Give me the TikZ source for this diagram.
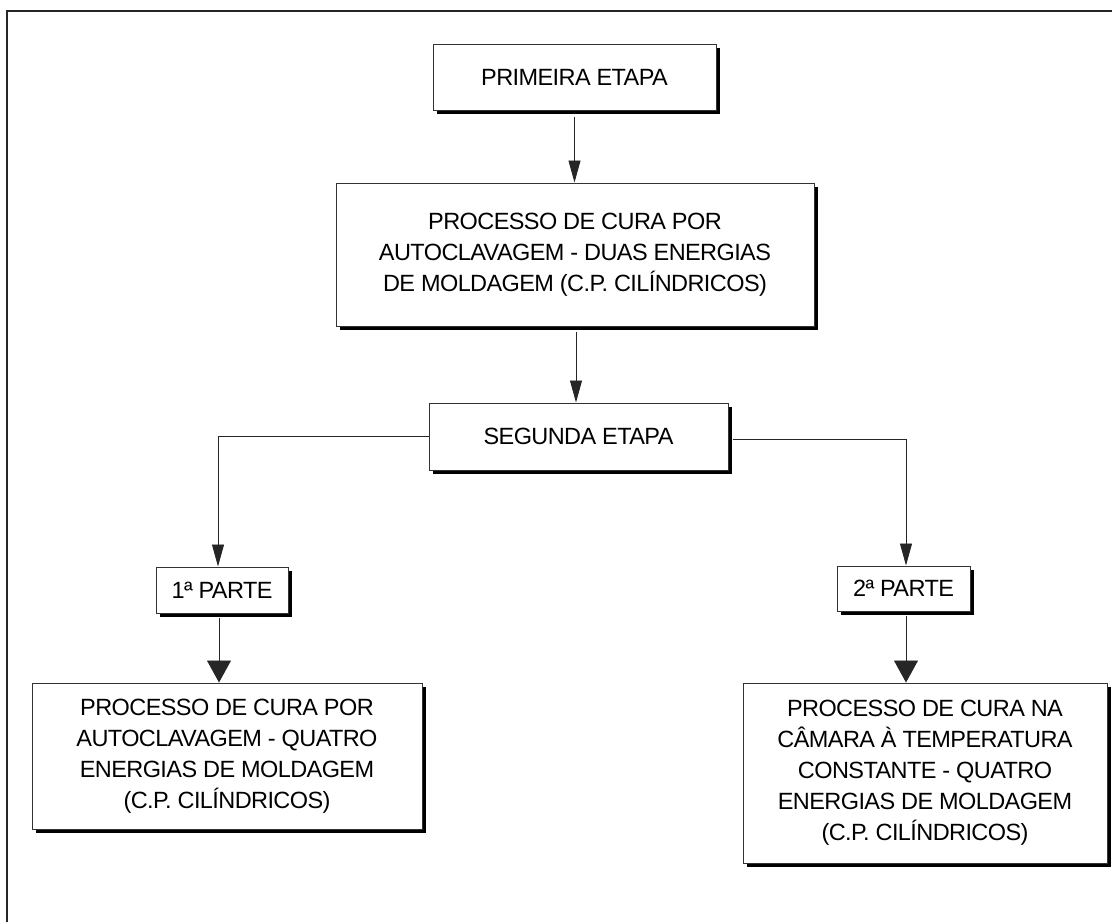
\documentclass[tikz,border=0pt]{standalone}
\usepackage{fontspec}
\setmainfont{Liberation Sans}[LetterSpace=-2.5]
\usetikzlibrary{arrows.meta,shadows}

\tikzset{
  etapa/.style={draw=black!80, line width=1pt, fill=white, inner sep=0pt, align=center,
    font=\fontsize{23.5}{31}\selectfont,
    drop shadow={shadow xshift=4pt, shadow yshift=-4pt, fill=black, opacity=1}},
  liga/.style={draw=black!85, line width=0.9pt},
  seta/.style={liga, -{Triangle[length=22pt, width=12pt]}},
  setagrande/.style={liga, -{Triangle[length=22pt, width=24pt]}}
}

\begin{document}
\begin{tikzpicture}[x=1pt, y=-1pt]
\useasboundingbox (0,0) rectangle (1112,922);
% moldura
\draw[line width=1.8pt, black!85] (7,922) -- (7,11) -- (1112,11);
% caixas
\node[etapa, minimum width=283pt, minimum height=66pt] (E1) at (574.5,77) {PRIMEIRA ETAPA};
\node[etapa, minimum width=478pt, minimum height=143pt] (C0) at (575,254.5) {PROCESSO DE CURA POR\\AUTOCLAVAGEM - DUAS ENERGIAS\\ DE MOLDAGEM (C.P. CILÍNDRICOS)};
\node[etapa, minimum width=299pt, minimum height=67pt] (E2) at (578.5,436.5) {SEGUNDA ETAPA};
\node[etapa, minimum width=132pt, minimum height=46pt] (P1) at (222,590) {1ª PARTE};
\node[etapa, minimum width=133pt, minimum height=45pt] (P2) at (903.5,588.5) {2ª PARTE};
\node[etapa, minimum width=390pt, minimum height=146pt] (C1) at (227,756) {PROCESSO DE CURA POR\\AUTOCLAVAGEM - QUATRO\\ENERGIAS DE MOLDAGEM\\(C.P. CILÍNDRICOS)};
\node[etapa, minimum width=364pt, minimum height=180pt] (C2) at (925,773) {PROCESSO DE CURA NA\\CÂMARA À TEMPERATURA\\CONSTANTE - QUATRO\\ENERGIAS DE MOLDAGEM\\(C.P. CILÍNDRICOS)};
% ligacoes
\draw[seta, shorten <=6pt] (E1.south) -- (E1.south |- C0.north);
\draw[seta, shorten <=5pt] ([xshift=1pt]C0.south) -- ([xshift=1pt]C0.south |- E2.north);
\draw[seta] (E2.west) -| ([xshift=-4pt]P1.north);
\draw[seta, shorten <=4pt] ([yshift=-2.5pt]E2.east) -| ([xshift=2.5pt]P2.north);
\draw[setagrande, shorten <=4pt] ([xshift=-3pt]P1.south) -- ([xshift=-3pt]P1.south |- C1.north);
\draw[setagrande, shorten <=4pt] ([xshift=2.5pt]P2.south) -- ([xshift=2.5pt]P2.south |- C2.north);
\end{tikzpicture}
\end{document}
